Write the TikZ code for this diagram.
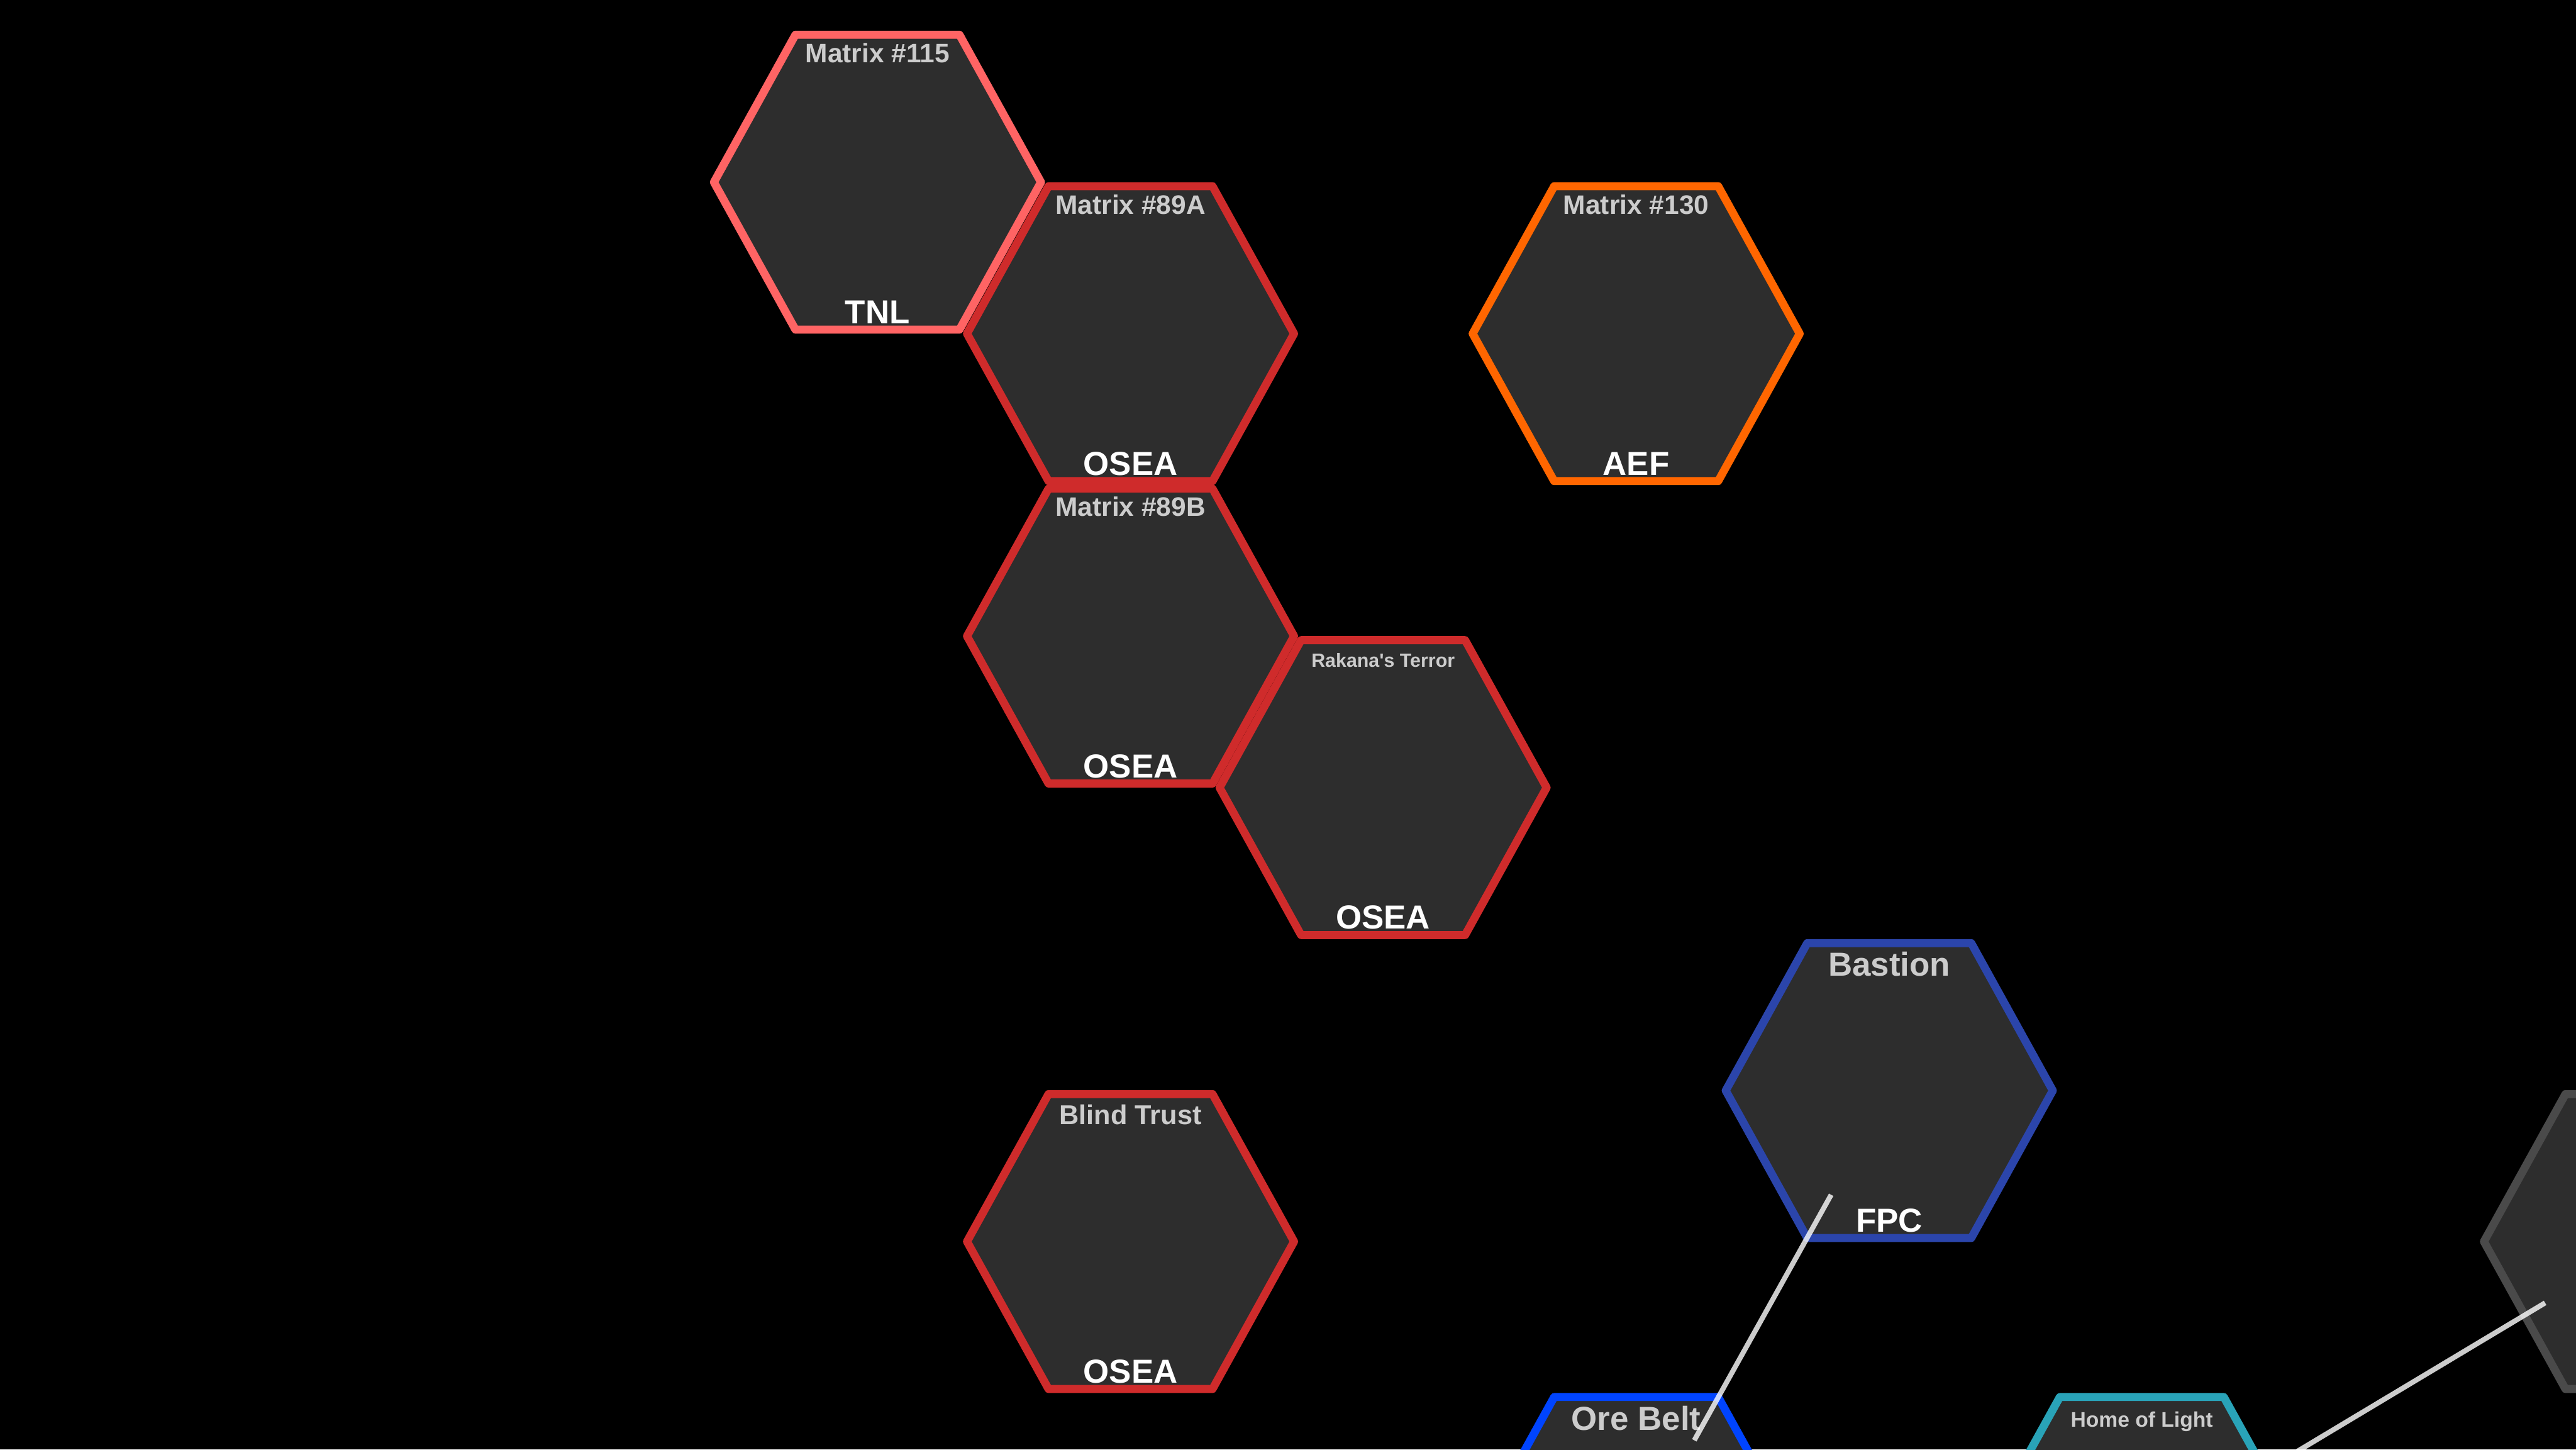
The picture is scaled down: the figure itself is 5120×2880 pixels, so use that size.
\documentclass[tikz,border=0pt]{standalone}
\usepackage{fontspec}
\setmainfont{Liberation Sans}
\usetikzlibrary{calc}
\definecolor{hexfill}{HTML}{2D2D2D}
\definecolor{titlegray}{HTML}{CCCCCC}
\definecolor{tnlpink}{HTML}{FF6464}
\definecolor{oseared}{HTML}{CF2B2B}
\definecolor{aeforange}{HTML}{FF6600}
\definecolor{fpcblue}{HTML}{2B45AB}
\definecolor{orebeltblue}{HTML}{0044FF}
\definecolor{lightteal}{HTML}{29A3B8}
\definecolor{neutralgray}{HTML}{4A4A4A}
\tikzset{
  hexshape/.style={fill=hexfill, line width=0.16cm, line join=round},
  hextitle/.style={text=titlegray, anchor=base, inner sep=0pt},
  hexlabel/.style={text=white, anchor=base, inner sep=0pt, font=\bfseries\fontsize{18.8pt}{22pt}\selectfont},
  link/.style={draw=white, draw opacity=0.8, line width=0.1cm, shorten <=2.37cm, shorten >=2.37cm}
}
% name, x, y, colour
\newcommand\hexcellat[4]{%
  \coordinate (#1) at (#2,#3);
  \draw[hexshape, draw=#4, shift={(#2,#3)}]
    (-325,0) -- (-163,-293) -- (163,-293) -- (325,0) -- (163,293) -- (-163,293) -- cycle;
}
\begin{document}
\begin{tikzpicture}[x=0.01cm, y=-0.01cm]
  \fill[black] (0,0) rectangle (5120,2880);
  \useasboundingbox (0,0) rectangle (5120,2880);
  \clip (0,0) rectangle (5120,2880);

  % hex cells
  \hexcellat{m115}{1744}{362}{tnlpink}
  \hexcellat{m89a}{2247}{663}{oseared}
  \hexcellat{m130}{3252}{663}{aeforange}
  \hexcellat{m89b}{2247}{1264}{oseared}
  \hexcellat{rakana}{2749}{1565}{oseared}
  \hexcellat{blind}{2247}{2467}{oseared}
  \hexcellat{bastion}{3755}{2167}{fpcblue}
  \hexcellat{orebelt}{3252}{3069}{orebeltblue}
  \hexcellat{homelight}{4257}{3069}{lightteal}
  \hexcellat{grayhex}{5262}{2467}{neutralgray}

  % titles
  \node[hextitle, font=\bfseries\fontsize{15.1pt}{18pt}\selectfont] (m115-title) at (1744,362-238) {Matrix \#115};
  \node[hextitle, font=\bfseries\fontsize{15.1pt}{18pt}\selectfont] (m89a-title) at (2247,663-238) {Matrix \#89A};
  \node[hextitle, font=\bfseries\fontsize{15.1pt}{18pt}\selectfont] (m130-title) at (3252,663-238) {Matrix \#130};
  \node[hextitle, font=\bfseries\fontsize{15.1pt}{18pt}\selectfont] (m89b-title) at (2247,1264-238) {Matrix \#89B};
  \node[hextitle, font=\bfseries\fontsize{10.8pt}{13pt}\selectfont] (rakana-title) at (2749,1565-240) {Rakana\textquotesingle s Terror};
  \node[hextitle, font=\bfseries\fontsize{15.4pt}{18pt}\selectfont] (blind-title) at (2247,2467-233) {Blind Trust};
  \node[hextitle, font=\bfseries\fontsize{18.8pt}{22pt}\selectfont] (bastion-title) at (3755,2167-228) {Bastion};
  \node[hextitle, font=\bfseries\fontsize{18.8pt}{22pt}\selectfont] (orebelt-title) at (3252,3069-227) {Ore Belt};
  \node[hextitle, font=\bfseries\fontsize{11.95pt}{14pt}\selectfont] (homelight-title) at (4257,3069-234) {Home of Light};

  % faction labels
  \node[hexlabel] (m115-label) at (1744,362+281) {TNL};
  \node[hexlabel] (m89a-label) at (2247,663+281) {OSEA};
  \node[hexlabel] (m130-label) at (3252,663+281) {AEF};
  \node[hexlabel] (m89b-label) at (2247,1264+281) {OSEA};
  \node[hexlabel] (rakana-label) at (2749,1565+281) {OSEA};
  \node[hexlabel] (blind-label) at (2247,2467+281) {OSEA};
  \node[hexlabel] (bastion-label) at (3755,2167+281) {FPC};

  % connectors
  \draw[link] (bastion) -- (orebelt);
  \draw[link] (grayhex) -- (homelight);
\end{tikzpicture}
\end{document}
